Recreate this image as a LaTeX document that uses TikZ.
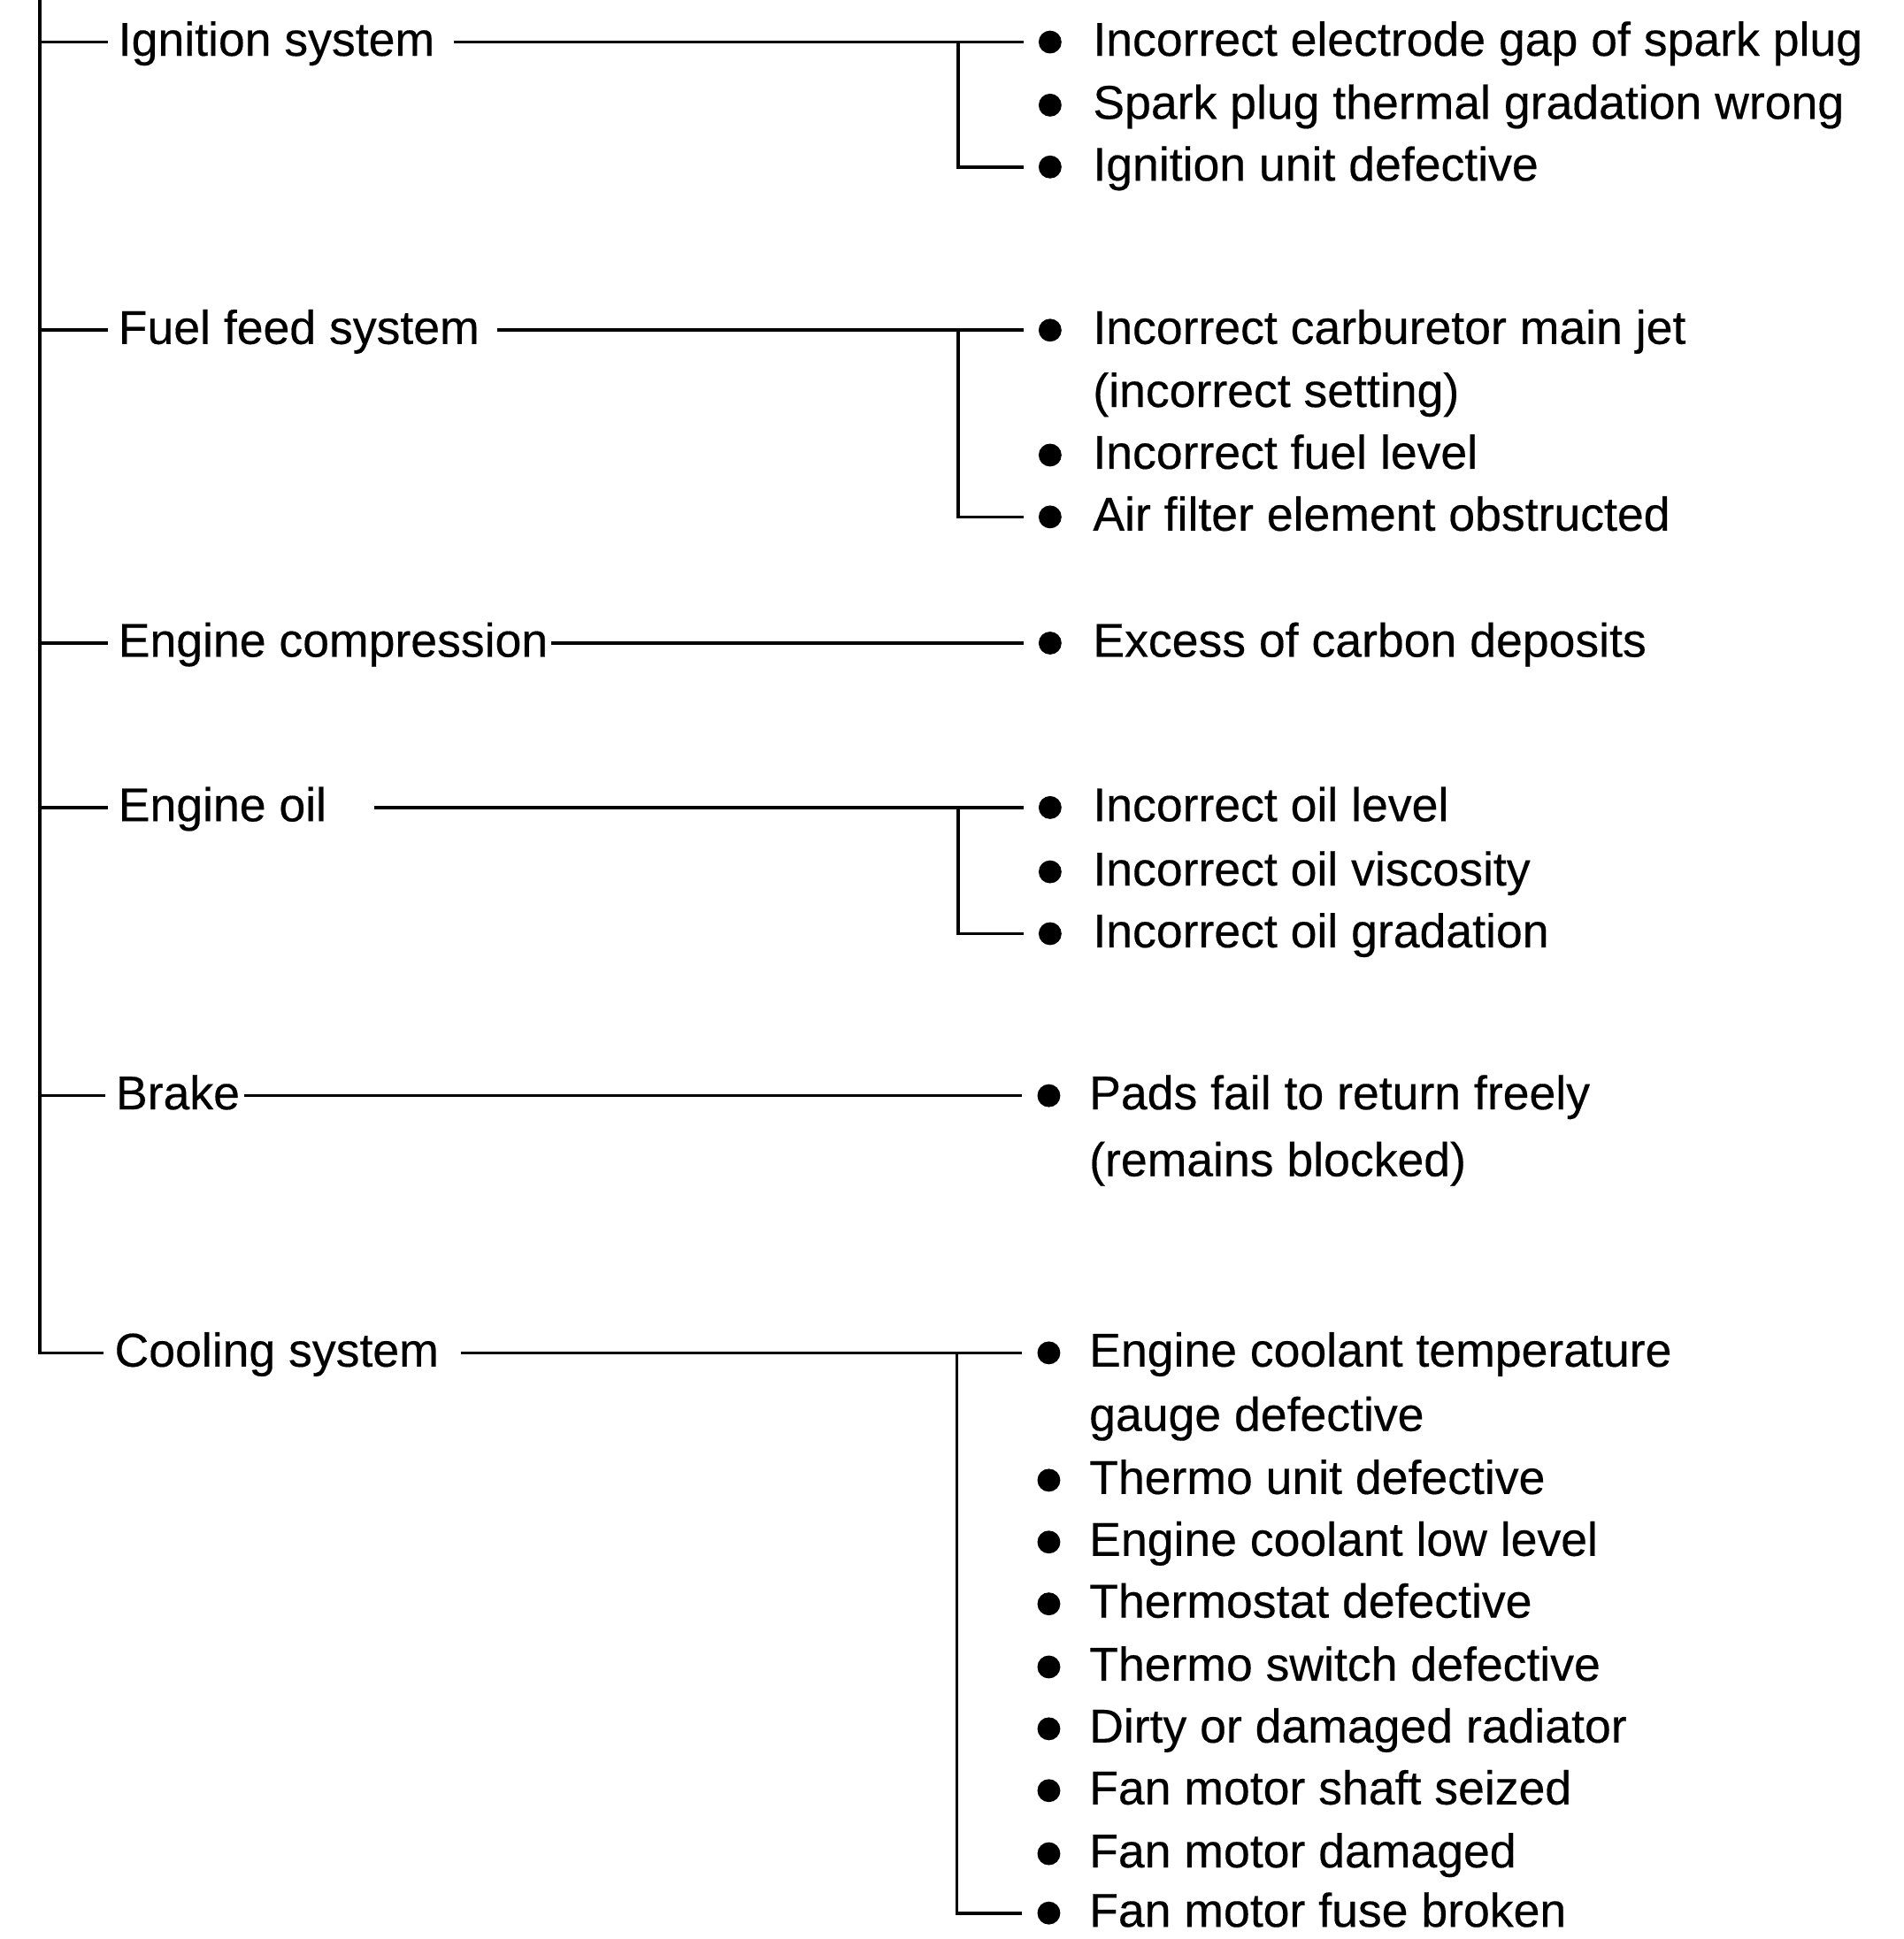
\documentclass[tikz,border=0pt]{standalone}
\usepackage{fontspec}
\newfontfamily\scanfont{Liberation Sans}[FakeBold=0.35]
\usetikzlibrary{calc}

\tikzset{
  x=0.01cm, y=-0.01cm,
  link/.style={line width=0.75pt, black},
  txt/.style={inner sep=0pt, anchor=west, text height=8.6pt, text depth=2.3pt,
              font=\scanfont\fontsize{10.9}{13}\selectfont},
  dot/.style={circle, fill=black, inner sep=0pt, minimum size=0.185cm},
  stub/.style={link, shorten >=0.08cm},
  feed/.style={link, shorten <=#1, shorten >=0.115cm},
}

\begin{document}
\begin{tikzpicture}
\useasboundingbox (0,0) rectangle (1539,1568);

% ---------- category labels ----------
\coordinate (top) at (32,0);
\node[txt] (ign)   at (95,34)   {Ignition system};
\node[txt] (fuel)  at (95,267)  {Fuel feed system};
\node[txt] (comp)  at (95,520)  {Engine compression};
\node[txt] (oil)   at (95,653)  {Engine oil};
\node[txt] (brake) at (93,886)  {Brake};
\node[txt] (cool)  at (92,1094) {Cooling system};

% ---------- causes ----------
% ignition
\node[dot] (i1) at (849,34)  {}; \node[txt] (i1t) at (883,34)  {Incorrect electrode gap of spark plug};
\node[dot] (i2) at (849,85)  {}; \node[txt] (i2t) at (883,85)  {Spark plug thermal gradation wrong};
\node[dot] (i3) at (849,135) {}; \node[txt] (i3t) at (883,135) {Ignition unit defective};
% fuel feed
\node[dot] (f1) at (849,267) {}; \node[txt] (f1t) at (883,267) {Incorrect carburetor main jet};
                                  \node[txt] (f1u) at (883,318) {(incorrect setting)};
\node[dot] (f2) at (849,368) {}; \node[txt] (f2t) at (883,368) {Incorrect fuel level};
\node[dot] (f3) at (849,418) {}; \node[txt] (f3t) at (883,418) {Air filter element obstructed};
% compression
\node[dot] (c1) at (849,520) {}; \node[txt] (c1t) at (883,520) {Excess of carbon deposits};
% oil
\node[dot] (o1) at (849,653) {}; \node[txt] (o1t) at (883,653) {Incorrect oil level};
\node[dot] (o2) at (849,705) {}; \node[txt] (o2t) at (883,705) {Incorrect oil viscosity};
\node[dot] (o3) at (849,755) {}; \node[txt] (o3t) at (883,755) {Incorrect oil gradation};
% brake
\node[dot] (b1) at (848,886) {}; \node[txt] (b1t) at (880,886) {Pads fail to return freely};
                                  \node[txt] (b1u) at (880,940) {(remains blocked)};
% cooling
\node[dot] (k1) at (848,1094) {}; \node[txt] (k1t) at (880,1094) {Engine coolant temperature};
                                   \node[txt] (k1u) at (880,1146) {gauge defective};
\node[dot] (k2) at (848,1197) {}; \node[txt] (k2t) at (880,1197) {Thermo unit defective};
\node[dot] (k3) at (848,1247) {}; \node[txt] (k3t) at (880,1247) {Engine coolant low level};
\node[dot] (k4) at (848,1297) {}; \node[txt] (k4t) at (880,1297) {Thermostat defective};
\node[dot] (k5) at (848,1348) {}; \node[txt] (k5t) at (880,1348) {Thermo switch defective};
\node[dot] (k6) at (848,1398) {}; \node[txt] (k6t) at (880,1398) {Dirty or damaged radiator};
\node[dot] (k7) at (848,1448) {}; \node[txt] (k7t) at (880,1448) {Fan motor shaft seized};
\node[dot] (k8) at (848,1499) {}; \node[txt] (k8t) at (880,1499) {Fan motor damaged};
\node[dot] (k9) at (848,1547) {}; \node[txt] (k9t) at (880,1547) {Fan motor fuse broken};

% ---------- trunk and branches ----------
\draw[stub] (top) |- (cool.west);
\draw[stub] (top |- ign.west)   -- (ign.west);
\draw[stub] (top |- fuel.west)  -- (fuel.west);
\draw[stub] (top |- comp.west)  -- (comp.west);
\draw[stub] (top |- oil.west)   -- (oil.west);
\draw[stub] (top |- brake.west) -- (brake.west);

% ---------- label to cause lines ----------
\draw[feed=0.15cm] (ign.east)   -- (ign.east -| i1.west);
\draw[feed=0.14cm] (fuel.east)  -- (fuel.east -| f1.west);
\draw[feed=0.02cm] (comp.east)  -- (comp.east -| c1.west);
\draw[feed=0.38cm] (oil.east)   -- (oil.east -| o1.west);
\draw[feed=0.03cm] (brake.east) -- (brake.east -| b1.west);
\draw[feed=0.17cm] (cool.east)  -- (cool.east -| k1.west);

% ---------- brackets gathering the remaining causes ----------
\draw[link] ($(i3.west)+(-11.5,0)$) -| ($(i1.west)+(-64.5,0)$);
\draw[link] ($(f3.west)+(-11.5,0)$) -| ($(f1.west)+(-64.5,0)$);
\draw[link] ($(o3.west)+(-11.5,0)$) -| ($(o1.west)+(-64.5,0)$);
\draw[link] ($(k9.west)+(-11.5,0)$) -| ($(k1.west)+(-64.5,0)$);
\end{tikzpicture}
\end{document}
